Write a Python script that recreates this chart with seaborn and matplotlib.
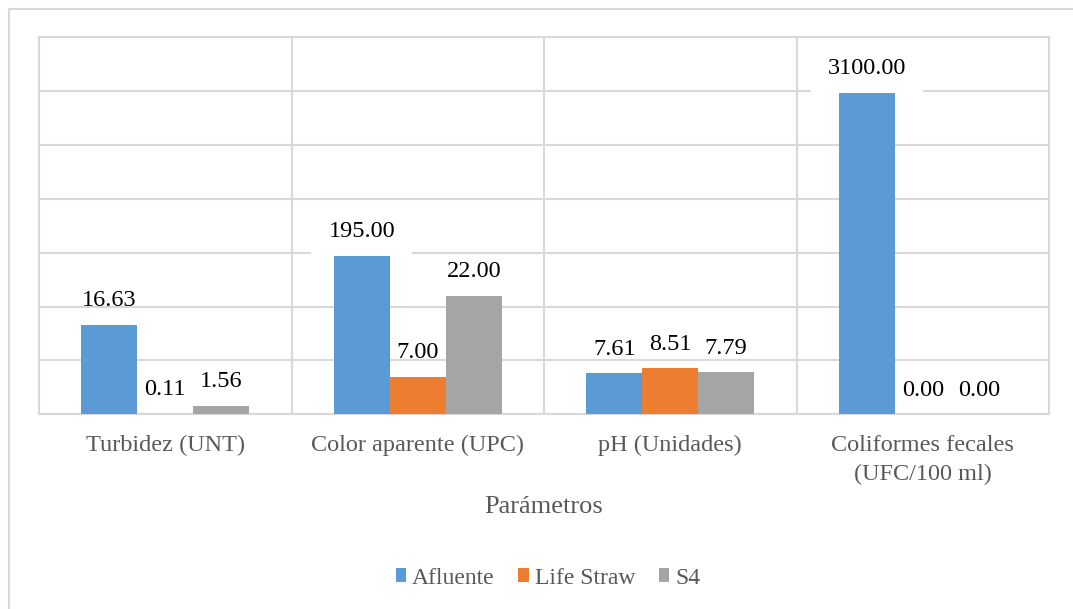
import matplotlib
matplotlib.use("Agg")
import matplotlib.pyplot as plt
import seaborn as sns
import pandas as pd
from matplotlib.patches import Rectangle
from matplotlib.lines import Line2D

# ---- data ----
categories = ["Turbidez (UNT)", "Color aparente (UPC)", "pH (Unidades)",
              "Coliformes fecales\n(UFC/100 ml)"]
series = ["Afluente", "Life Straw", "S4"]
# values printed on the bars
afluente_labels = [16.63, 195.00, 7.61, 3100.00]
lifestraw_labels = [0.11, 7.00, 8.51, 0.00]
s4_labels = [1.56, 22.00, 7.79, 0.00]
# bar heights as drawn in the reference (axis units, gridlines every 10)
afluente_heights = [16.63, 29.4, 7.61, 59.7]
lifestraw_heights = [0.11, 7.00, 8.51, 0.00]
s4_heights = [1.56, 22.00, 7.79, 0.00]
colors = ["#5B9BD5", "#ED7D31", "#A5A5A5"]

heights = [afluente_heights, lifestraw_heights, s4_heights]
labels = [afluente_labels, lifestraw_labels, s4_labels]

rows = []
for s, h in zip(series, heights):
    for c, v in zip(categories, h):
        rows.append({"Parámetro": c, "Serie": s, "Valor": v})
df = pd.DataFrame(rows)

sns.set_theme(style="white")
plt.rcParams["font.family"] = ["Liberation Serif", "DejaVu Serif"]

W, H = 1073, 609
fig = plt.figure(figsize=(W / 100, H / 100), dpi=100)
ax = fig.add_axes([39 / W, 1 - 414.3 / H, (1049 - 39) / W, (414.3 - 37.3) / H])

sns.barplot(data=df, x="Parámetro", y="Valor", hue="Serie", order=categories,
            hue_order=series, palette=colors, width=0.665, gap=0,
            saturation=1, ax=ax, legend=False, linewidth=0)

ax.set_ylim(0, 70)
ax.set_xlim(-0.5, len(categories) - 0.5)
ax.set_yticks(range(0, 71, 10))
ax.set_yticklabels([])
ax.tick_params(axis="y", length=0)
ax.tick_params(axis="x", length=0, pad=15, labelsize=17.5, labelcolor="#595959")
ax.set_xticks(range(len(categories)))
ax.set_xticklabels(categories, linespacing=1.5)
# vertical lines between categories
for b in [0.5, 1.5, 2.5]:
    ax.axvline(b, color="#D9D9D9", lw=1.5, zorder=0)
ax.grid(axis="y", color="#D9D9D9", lw=1.5, zorder=0)
ax.set_axisbelow(True)
for sp in ax.spines.values():
    sp.set_color("#D9D9D9")
    sp.set_linewidth(1.5)
ax.set_ylabel("")
ax.set_xlabel("Parámetros", fontsize=19, color="#595959", labelpad=8)

# bars above label boxes
for cont in ax.containers:
    for bar in cont:
        bar.set_zorder(6)

# data labels
for i, cont in enumerate(ax.containers):
    for j, bar in enumerate(cont):
        val = labels[i][j]
        boxed = abs(val - heights[i][j]) > 1e-9
        kw = {}
        if boxed:
            kw["bbox"] = dict(facecolor="white", edgecolor="none",
                              boxstyle="square,pad=0.7")
        ax.annotate(f"{val:.2f}", (bar.get_x() + bar.get_width() / 2, bar.get_height()),
                    xytext=(0, 24), textcoords="offset pixels", ha="center",
                    va="center", fontsize=17.5, color="#000000", zorder=5, **kw)

# legend
handles = [Rectangle((0, 0), 1, 1, facecolor=c, edgecolor="none") for c in colors]
fig.legend(handles, series, loc="center", bbox_to_anchor=(548 / W, 1 - 578 / H),
           ncol=3, frameon=False, fontsize=17, handlelength=0.45, handleheight=0.5,
           handletextpad=0.25, columnspacing=1.0, labelcolor="#595959")

# outer chart border (top and left visible)
fig.add_artist(Line2D([9 / W, 1.0], [1 - 8.5 / H, 1 - 8.5 / H],
                      transform=fig.transFigure, color="#D9D9D9", lw=1.5))
fig.add_artist(Line2D([9 / W, 9 / W], [0, 1 - 8.5 / H],
                      transform=fig.transFigure, color="#D9D9D9", lw=1.5))

fig.savefig("out.png", dpi=100, facecolor="white")
